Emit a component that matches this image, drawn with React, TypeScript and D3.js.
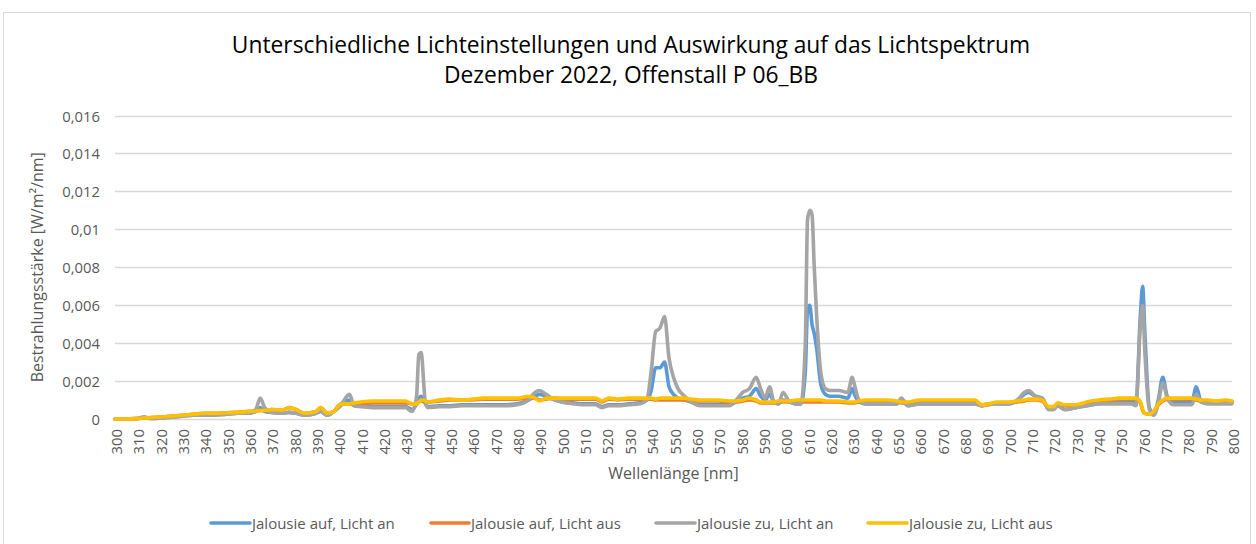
import React from "react";
import * as d3 from "d3";

const wavelengths = [
  300, 305, 310, 313, 316, 320, 325, 330, 335, 340,
  345, 350, 355, 360, 363, 365, 367, 370, 375, 378,
  381, 385, 390, 392, 395, 398, 400, 402, 405, 407,
  410, 415, 420, 425, 430, 433, 435, 436, 437, 439,
  440, 445, 450, 455, 460, 465, 470, 475, 480, 485,
  488, 490, 493, 497, 500, 505, 510, 515, 518, 521,
  525, 530, 535, 538, 540, 542, 544, 546, 548, 550,
  552, 555, 558, 562, 566, 570, 575, 578, 581, 584,
  587, 589, 591, 593, 595, 597, 599, 602, 605, 607,
  609, 610, 611, 612, 613, 614, 616, 618, 620, 624,
  628, 630, 631, 633, 636, 640, 645, 650, 652, 655,
  660, 665, 670, 675, 680, 685, 688, 691, 695, 700,
  704, 707, 709, 712, 715, 718, 720, 722, 725, 730,
  735, 740, 745, 750, 755, 757, 759, 760, 761, 763,
  765, 767, 769, 771, 774, 778, 782, 784, 786, 789,
  793, 797, 800,
];

// Jalousie auf, Licht an
const aufAn = [
  0, 0, 0.00003, 0.00005, 0.00003, 0.00005, 0.0001, 0.00015, 0.0002, 0.0002,
  0.00022, 0.00025, 0.0003, 0.0003, 0.0004, 0.0006, 0.0004, 0.00035, 0.0003, 0.00035,
  0.0003, 0.0002, 0.0003, 0.0004, 0.0002, 0.0004, 0.0006, 0.0008, 0.001, 0.0007,
  0.0007, 0.00065, 0.00065, 0.00065, 0.00065, 0.0005, 0.0008, 0.0011, 0.0012, 0.0008,
  0.00065, 0.0007, 0.0007, 0.00075, 0.00075, 0.00075, 0.00075, 0.00075, 0.0008, 0.001,
  0.0012, 0.0013, 0.0012, 0.001, 0.0009, 0.00085, 0.0008, 0.0008, 0.00065, 0.00075,
  0.00075, 0.0008, 0.00085, 0.001, 0.0015, 0.0027, 0.0027, 0.003, 0.0017, 0.0013,
  0.0011, 0.001, 0.0009, 0.00075, 0.00075, 0.00075, 0.00075, 0.0009, 0.0011, 0.0012,
  0.0016, 0.0012, 0.001, 0.0013, 0.0009, 0.0008, 0.001, 0.0009, 0.0008, 0.0008,
  0.0025, 0.0058, 0.006, 0.005, 0.0045, 0.0038, 0.0018, 0.0013, 0.0012, 0.0012,
  0.0011, 0.0016, 0.0013, 0.0009, 0.0008, 0.0008, 0.0008, 0.0008, 0.001, 0.0007,
  0.0008, 0.0008, 0.0008, 0.0008, 0.0008, 0.0008, 0.0007, 0.0008, 0.0008, 0.0008,
  0.001, 0.0013, 0.0014, 0.0012, 0.0011, 0.0005, 0.0005, 0.0007, 0.0005, 0.0006,
  0.0007, 0.0008, 0.0009, 0.0009, 0.0009, 0.0008, 0.0055, 0.007, 0.0045, 0.0006,
  0.0003, 0.001, 0.0022, 0.0012, 0.0009, 0.0009, 0.0009, 0.0017, 0.001, 0.0009,
  0.0009, 0.0009, 0.0009,
];

// Jalousie auf, Licht aus
const aufAus = [
  0, 0, 0.00002, 0.00005, 0.00008, 0.0001, 0.00015, 0.0002, 0.00025, 0.0003,
  0.0003, 0.00033, 0.00035, 0.0004, 0.00042, 0.00045, 0.00045, 0.0005, 0.00048, 0.0006,
  0.0005, 0.0003, 0.0004, 0.0006, 0.0003, 0.0004, 0.0007, 0.0008, 0.0008, 0.0008,
  0.0008, 0.00085, 0.00085, 0.00085, 0.00085, 0.0008, 0.0008, 0.0009, 0.00095, 0.0009,
  0.0009, 0.00095, 0.001, 0.001, 0.001, 0.00105, 0.00105, 0.00105, 0.00105, 0.0011,
  0.0011, 0.001, 0.00105, 0.0011, 0.00105, 0.00105, 0.00105, 0.00105, 0.0009, 0.00105,
  0.001, 0.00105, 0.00105, 0.00105, 0.00105, 0.001, 0.001, 0.001, 0.001, 0.001,
  0.001, 0.001, 0.00095, 0.00095, 0.00095, 0.00095, 0.0009, 0.0009, 0.00095, 0.001,
  0.00095, 0.00085, 0.00085, 0.00085, 0.00085, 0.0009, 0.0009, 0.0009, 0.0009, 0.0009,
  0.0009, 0.0009, 0.0009, 0.0009, 0.0009, 0.0009, 0.0009, 0.0009, 0.0009, 0.0009,
  0.00085, 0.00085, 0.00085, 0.0009, 0.00095, 0.00095, 0.00095, 0.0009, 0.00085, 0.00085,
  0.00095, 0.00095, 0.00095, 0.00095, 0.00095, 0.00095, 0.0007, 0.00075, 0.00085, 0.00085,
  0.0009, 0.00095, 0.001, 0.001, 0.00095, 0.0006, 0.0006, 0.0008, 0.0007, 0.0007,
  0.00085, 0.00095, 0.001, 0.00105, 0.00105, 0.00105, 0.00085, 0.00045, 0.0003, 0.00025,
  0.0004, 0.00075, 0.00095, 0.00105, 0.00105, 0.00105, 0.00105, 0.001, 0.00095, 0.00095,
  0.0009, 0.00095, 0.0009,
];

// Jalousie zu, Licht an
const zuAn = [
  0, 0, 0.00003, 0.00012, 0.00003, 0.00005, 0.0001, 0.00015, 0.0002, 0.0002,
  0.00022, 0.00025, 0.0003, 0.0003, 0.0005, 0.0011, 0.0006, 0.00035, 0.0003, 0.00035,
  0.0003, 0.0002, 0.0003, 0.0004, 0.0002, 0.0004, 0.0006, 0.0009, 0.0013, 0.0007,
  0.00065, 0.0006, 0.0006, 0.0006, 0.0006, 0.0004, 0.0012, 0.0034, 0.0035, 0.0008,
  0.0006, 0.00065, 0.00065, 0.0007, 0.0007, 0.0007, 0.0007, 0.0007, 0.00075, 0.001,
  0.0014, 0.0015, 0.0013, 0.001, 0.0009, 0.0008, 0.00075, 0.00075, 0.0006, 0.0007,
  0.0007, 0.00075, 0.0008, 0.001, 0.0025, 0.0046, 0.0048, 0.0054, 0.0032, 0.0022,
  0.0016, 0.0012, 0.0009, 0.0007, 0.0007, 0.0007, 0.0007, 0.001, 0.0014, 0.0016,
  0.0022, 0.0016, 0.0011, 0.0017, 0.0009, 0.0008, 0.0014, 0.0009, 0.0008, 0.0008,
  0.004, 0.0105, 0.011, 0.0108, 0.008, 0.0056, 0.0024, 0.0016, 0.0015, 0.0015,
  0.0014, 0.0022, 0.0018, 0.001, 0.0008, 0.0008, 0.0008, 0.0008, 0.0011, 0.0007,
  0.0008, 0.0008, 0.0008, 0.0008, 0.0008, 0.0008, 0.0007, 0.0008, 0.0008, 0.0008,
  0.001, 0.0014, 0.0015, 0.0012, 0.0011, 0.0005, 0.0005, 0.0007, 0.0005, 0.0006,
  0.0007, 0.0008, 0.0008, 0.0008, 0.0008, 0.0007, 0.005, 0.006, 0.0035, 0.0005,
  0.0002, 0.0008, 0.0019, 0.0011, 0.00075, 0.00075, 0.00075, 0.0013, 0.0009, 0.0008,
  0.0008, 0.0008, 0.0008,
];

// Jalousie zu, Licht aus
const zuAus = [
  0, 0, 0.00002, 0.00005, 0.00008, 0.0001, 0.00015, 0.0002, 0.00025, 0.0003,
  0.0003, 0.00033, 0.00035, 0.0004, 0.00042, 0.00045, 0.00045, 0.0005, 0.00048, 0.0006,
  0.0005, 0.0003, 0.0004, 0.0006, 0.0003, 0.0004, 0.0007, 0.0008, 0.0008, 0.00085,
  0.0009, 0.00095, 0.00095, 0.00095, 0.00095, 0.0008, 0.0008, 0.0009, 0.001, 0.00095,
  0.0009, 0.001, 0.00105, 0.001, 0.00105, 0.0011, 0.0011, 0.0011, 0.0011, 0.0012,
  0.0011, 0.00095, 0.0011, 0.0011, 0.0011, 0.0011, 0.0011, 0.0011, 0.00095, 0.0011,
  0.00105, 0.0011, 0.0011, 0.0011, 0.0011, 0.00105, 0.0011, 0.0011, 0.0011, 0.0011,
  0.0011, 0.0011, 0.00105, 0.001, 0.001, 0.001, 0.00095, 0.00095, 0.001, 0.0011,
  0.001, 0.0009, 0.0009, 0.0009, 0.0009, 0.00095, 0.00095, 0.00095, 0.001, 0.001,
  0.001, 0.001, 0.001, 0.001, 0.001, 0.001, 0.001, 0.00095, 0.00095, 0.00095,
  0.0009, 0.0009, 0.0009, 0.00095, 0.001, 0.001, 0.001, 0.00095, 0.0009, 0.0009,
  0.001, 0.001, 0.001, 0.001, 0.001, 0.001, 0.00075, 0.0008, 0.0009, 0.0009,
  0.00095, 0.001, 0.00105, 0.00105, 0.001, 0.00065, 0.00065, 0.00085, 0.00075, 0.00075,
  0.0009, 0.001, 0.00105, 0.0011, 0.0011, 0.0011, 0.0009, 0.0005, 0.0003, 0.00025,
  0.0004, 0.0008, 0.001, 0.0011, 0.0011, 0.0011, 0.0011, 0.00105, 0.001, 0.001,
  0.00095, 0.001, 0.00095,
];

const seriesNames = [
  "Jalousie auf, Licht an",
  "Jalousie auf, Licht aus",
  "Jalousie zu, Licht an",
  "Jalousie zu, Licht aus",
];
const seriesValues = [aufAn, aufAus, zuAn, zuAus];
const seriesColors = ["#5B9BD5", "#ED7D31", "#A5A5A5", "#FFC000"];

const yTicks = [0, 0.002, 0.004, 0.006, 0.008, 0.01, 0.012, 0.014, 0.016];
const xTicks = d3.range(300, 801, 10);

const titleLines = [
  "Unterschiedliche Lichteinstellungen und Auswirkung auf das Lichtspektrum",
  "Dezember 2022, Offenstall P 06_BB",
];
const xTitle = "Wellenlänge [nm]";
const yTitle = "Bestrahlungsstärke [W/m²/nm]";

const FONT = "'Open Sans', 'Noto Sans', sans-serif";

export default function App() {
  const W = 1256;
  const H = 544;
  const left = 115;
  const right = 1232;
  const top = 115.5;
  const bottom = 419;

  const x = d3.scaleLinear().domain([300, 800]).range([left, right]);
  const y = d3.scaleLinear().domain([0, 0.016]).range([bottom, top]);

  const fmt = (v: number) => (v === 0 ? "0" : String(+v.toFixed(3)).replace(".", ","));

  const line = d3
    .line<number>()
    .x((_, i) => x(wavelengths[i]))
    .y((d) => y(d))
    .curve(d3.curveMonotoneX);

  const legendItems = [
    { lx: 211, tx: 252 },
    { lx: 431, tx: 471 },
    { lx: 656, tx: 697 },
    { lx: 868, tx: 909 },
  ];

  return (
    <svg
      width={W}
      height={H}
      style={{ position: "absolute", left: 0, top: 0, background: "#fff" }}
      fontFamily={FONT}
    >
      <rect x={0} y={0} width={W} height={H} fill="#fff" />
      <rect x={3.5} y={12.5} width={1247} height={560} fill="#fff" stroke="#D9D9D9" strokeWidth={1} />

      {/* title */}
      <text x={631} y={53} textAnchor="middle" fontSize={22.8} fill="#000">
        {titleLines[0]}
      </text>
      <text x={631} y={83} textAnchor="middle" fontSize={22.8} fill="#000">
        {titleLines[1]}
      </text>

      {/* gridlines */}
      {yTicks.map((t) => (
        <line
          key={"g" + t}
          x1={left}
          x2={right}
          y1={Math.round(y(t)) + 0.5}
          y2={Math.round(y(t)) + 0.5}
          stroke="#D9D9D9"
          strokeWidth={1.3}
        />
      ))}

      {/* y tick labels */}
      {yTicks.map((t) => (
        <text
          key={"yl" + t}
          x={100}
          y={y(t)}
          textAnchor="end"
          dominantBaseline="central"
          fontSize={14.8}
          fill="#595959"
        >
          {fmt(t)}
        </text>
      ))}

      {/* x tick labels */}
      {xTicks.map((t) => (
        <text
          key={"xl" + t}
          transform={`translate(${x(t) + 1},${429}) rotate(-90)`}
          textAnchor="end"
          dominantBaseline="central"
          fontSize={14.8}
          fill="#595959"
        >
          {t}
        </text>
      ))}

      {/* series */}
      {seriesValues.map((vals, i) => (
        <path
          key={"s" + i}
          d={line(vals) || ""}
          fill="none"
          stroke={seriesColors[i]}
          strokeWidth={3.6}
          strokeLinejoin="round"
          strokeLinecap="round"
        />
      ))}

      {/* axis titles */}
      <text x={(left + right) / 2} y={479} textAnchor="middle" fontSize={16} fill="#595959">
        {xTitle}
      </text>
      <text
        transform={`translate(43,${(top + bottom) / 2}) rotate(-90)`}
        textAnchor="middle"
        fontSize={16}
        fill="#595959"
      >
        {yTitle}
      </text>

      {/* legend */}
      {seriesNames.map((n, i) => (
        <g key={"lg" + i}>
          <line
            x1={legendItems[i].lx}
            x2={legendItems[i].tx - 2}
            y1={523}
            y2={523}
            stroke={seriesColors[i]}
            strokeWidth={3.6}
            strokeLinecap="round"
          />
          <text x={legendItems[i].tx} y={523} dominantBaseline="central" fontSize={15} fill="#595959">
            {n}
          </text>
        </g>
      ))}
    </svg>
  );
}
